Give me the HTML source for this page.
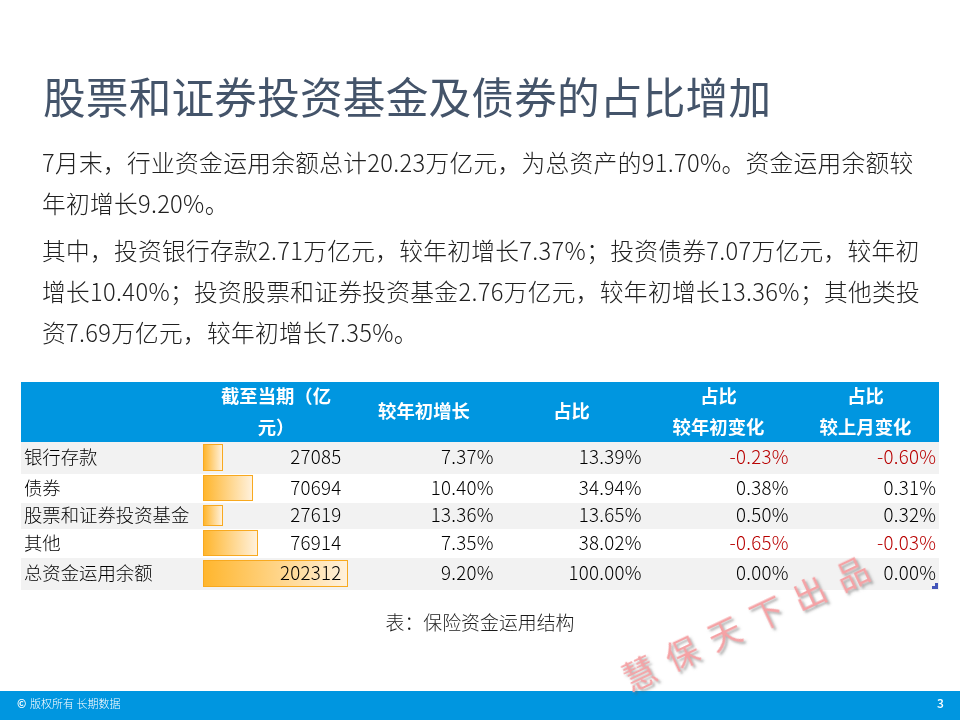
<!DOCTYPE html>
<html lang="zh-CN">
<head>
<meta charset="utf-8">
<title>股票和证券投资基金及债券的占比增加</title>
<style>
html,body{margin:0;padding:0;}
body{width:960px;height:720px;overflow:hidden;background:#fff;position:relative;
  font-family:"Noto Sans CJK SC","Liberation Sans",sans-serif;font-weight:300;color:#1a1a1a;}
.abs{position:absolute;white-space:nowrap;}
body>*{will-change:transform;}
#title{left:42.7px;top:66.4px;font-size:42.67px;letter-spacing:.18px;line-height:60px;color:#44546a;font-weight:400;}
.body{left:42.3px;font-size:23.7px;letter-spacing:.3px;line-height:41px;color:#202020;}
#p1{top:141.6px;}
#p2{top:230px;}
table{position:absolute;left:21px;top:382px;width:918px;border-collapse:collapse;table-layout:fixed;}
th{background:#0096e0;color:#fff;font-weight:700;font-size:18.36px;line-height:31.25px;padding:0;text-align:center;vertical-align:middle;}
th div{margin:-4px 0;position:relative;top:-.9px;}
th.one div{top:-1.5px;}
td{color:#000;font-size:18.67px;line-height:20px;padding:0 4px 3.2px 4px;text-align:right;vertical-align:middle;position:relative;white-space:nowrap;letter-spacing:.28px;}
td.l{text-align:left;padding-left:3px;font-size:18.36px;letter-spacing:0;}
td.c3{padding-right:4.2px;} td.c4{padding-right:3.3px;} td.c5{padding-right:3.2px;} td.c6{padding-right:2.7px;}
tr.g td{background:#f2f2f2;}
.neg{color:#b80000;}
.bar{position:absolute;left:1px;top:1.25px;bottom:2.4px;box-sizing:border-box;border:1px solid #f8a91f;background:linear-gradient(90deg,#ffb62e,#fff1dc);}
tr.g .bar{top:2px;bottom:3.4px;}
.v{position:relative;padding-right:4.5px;}
#mark{position:absolute;left:932px;top:583px;width:6px;height:6px;background:#4355b9;}
#mark i{position:absolute;left:0;top:0;width:3px;height:3px;background:#f2f2f2;}
#cap{left:0;width:960px;text-align:center;top:608.3px;font-size:18.9px;line-height:28px;color:#1a1a1a;font-weight:300;}
#foot{position:absolute;left:0;top:691px;width:960px;height:29px;background:#0096e0;}
#copy{left:17px;top:693.6px;font-size:11px;line-height:18px;color:#fff;font-weight:300;}
#copy b{font-weight:700;margin-right:1.2px;}
#pg{left:936.5px;top:694px;font-size:12px;line-height:18px;color:#fff;font-weight:500;}
#wm{left:623.5px;top:663px;font-size:33px;letter-spacing:14px;color:#f5a2a5;transform:rotate(-25.2deg);transform-origin:left center;text-shadow:1.2px 3.3px 2.5px rgba(100,100,100,.5);font-weight:400;line-height:33px;}
</style>
</head>
<body>
<div id="title" class="abs">股票和证券投资基金及债券的占比增加</div>
<div id="p1" class="abs body"><span style="letter-spacing:.33px">7月末，行业资金运用余额总计20.23万亿元，为总资产的91.70%。资金运用余额较</span><br>年初增长9.20%。</div>
<div id="p2" class="abs body"><span style="letter-spacing:.32px">其中，投资银行存款2.71万亿元，较年初增长7.37%；投资债券7.07万亿元，较年初</span><br><span style="letter-spacing:.345px">增长10.40%；投资股票和证券投资基金2.76万亿元，较年初增长13.36%；其他类投</span><br>资7.69万亿元，较年初增长7.35%。</div>
<table>
<colgroup><col style="width:181px"><col style="width:148px"><col style="width:148px"><col style="width:147px"><col style="width:147px"><col style="width:147px"></colgroup>
<tr style="height:60px"><th></th><th><div>截至当期（亿<br>元）</div></th><th class="one"><div>较年初增长</div></th><th class="one"><div>占比</div></th><th><div>占比<br>较年初变化</div></th><th><div>占比<br>较上月变化</div></th></tr>
<tr class="g" style="height:32px"><td class="l">银行存款</td><td><div class="bar" style="width:20px"></div><span class="v">27085</span></td><td class="c3">7.37%</td><td class="c4">13.39%</td><td class="c5 neg">-0.23%</td><td class="c6 neg">-0.60%</td></tr>
<tr style="height:29px"><td class="l">债券</td><td><div class="bar" style="width:50px"></div><span class="v">70694</span></td><td class="c3">10.40%</td><td class="c4">34.94%</td><td class="c5">0.38%</td><td class="c6">0.31%</td></tr>
<tr class="g" style="height:26px"><td class="l">股票和证券投资基金</td><td><div class="bar" style="width:20px"></div><span class="v">27619</span></td><td class="c3">13.36%</td><td class="c4">13.65%</td><td class="c5">0.50%</td><td class="c6">0.32%</td></tr>
<tr style="height:29px"><td class="l">其他</td><td><div class="bar" style="width:55px"></div><span class="v">76914</span></td><td class="c3">7.35%</td><td class="c4">38.02%</td><td class="c5 neg">-0.65%</td><td class="c6 neg">-0.03%</td></tr>
<tr class="g" style="height:32px"><td class="l">总资金运用余额</td><td><div class="bar" style="width:145px"></div><span class="v">202312</span></td><td class="c3">9.20%</td><td class="c4">100.00%</td><td class="c5">0.00%</td><td class="c6">0.00%</td></tr>
</table>
<div id="mark"><i></i></div>
<div id="cap" class="abs">表：保险资金运用结构</div>
<div id="foot"></div>
<div id="copy" class="abs"><b>©</b> 版权所有 长期数据</div>
<div id="pg" class="abs">3</div>
<div id="wm" class="abs">慧保天下出品</div>
</body>
</html>
